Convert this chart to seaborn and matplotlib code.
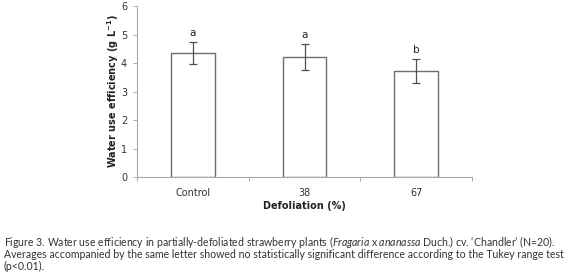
import matplotlib
matplotlib.use("Agg")
import matplotlib.pyplot as plt
import seaborn as sns
import pandas as pd
import numpy as np

categories = ["Control", "38", "67"]
means = [4.36, 4.21, 3.72]
errors = [0.38, 0.45, 0.43]
letters = ["a", "a", "b"]
yticks = [0, 1, 2, 3, 4, 5, 6]
caption_lines = [
    "Figure 3. Water use efficiency in partially-defoliated strawberry plants ($\\it{Fragaria}$ x $\\it{ananassa}$ Duch.) cv. \u2018Chandler\u2019 (N=20).",
    "Averages accompanied by the same letter showed no statistically significant difference according to the Tukey range test",
    "(p<0.01).",
]

sns.set_theme(style="white")
plt.rcParams["font.family"] = ["DejaVu Sans"]
plt.rcParams["mathtext.fontset"] = "custom"
plt.rcParams["mathtext.it"] = "Lato:italic"
plt.rcParams["mathtext.rm"] = "Lato"

df = pd.DataFrame({"cat": categories, "val": means})

fig = plt.figure(figsize=(5.8, 2.77), dpi=100)
ax = fig.add_axes([0.236, 0.361, 0.578, 0.617])

sns.barplot(data=df, x="cat", y="val", ax=ax, color="white", edgecolor="#6e6e6e",
            linewidth=1.0, width=0.39, errorbar=None)
ax.errorbar(np.arange(len(categories)), means, yerr=errors, fmt="none",
            ecolor="#505050", elinewidth=0.9, capsize=3, capthick=0.9)
for i, (m, e, l) in enumerate(zip(means, errors, letters)):
    ax.annotate(l, (i, m + e), xytext=(0, 3), textcoords="offset points",
                ha="center", va="bottom", fontsize=7.5, color="#222222")

ax.set_ylim(0, 6)
ax.set_xlim(-0.5, 2.5)
ax.set_yticks(yticks)
ax.set_yticklabels([str(t) for t in yticks], fontsize=7, color="#333333")
ax.set_xticks(range(len(categories)))
ax.set_xticklabels(categories, fontsize=7, color="#333333")
ax.set_xticks([-0.5, 0.5, 1.5, 2.5], minor=True)
ax.tick_params(axis="x", which="major", length=0, pad=8)
ax.tick_params(axis="x", which="minor", length=3, width=0.7, color="#aaaaaa", direction="out", bottom=True)
ax.tick_params(axis="y", which="major", length=3, width=0.7, color="#aaaaaa", direction="out", left=True, pad=4)

for s in ["top", "right"]:
    ax.spines[s].set_visible(False)
for s in ["left", "bottom"]:
    ax.spines[s].set_color("#aaaaaa")
    ax.spines[s].set_linewidth(0.8)

ax.set_xlabel("Defoliation (%)", fontsize=7, fontweight="bold", labelpad=2, color="#222222")
ax.set_ylabel("Water use efficiency (g L$^{\\mathregular{-1}}$)", fontsize=7, fontweight="bold", labelpad=0, color="#222222")

ys = [242, 254, 266]
sizes = [7.6, 7.6, 7.6]
for line, y, s in zip(caption_lines, ys, sizes):
    fig.text(4 / 580, 1 - y / 277, line, fontsize=s, color="#333333",
             va="center", family="Lato")

fig.savefig("out.png", dpi=100)
